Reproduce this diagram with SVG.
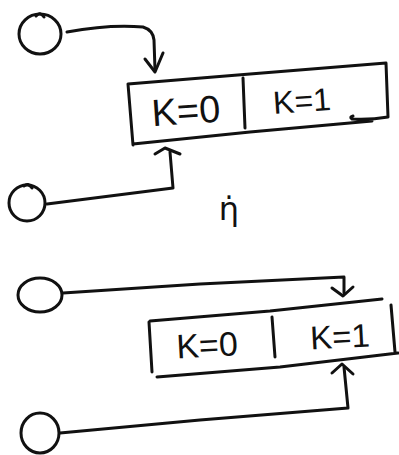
<svg xmlns="http://www.w3.org/2000/svg" width="399" height="455" viewBox="0 0 399 455">
<style>
.s{fill:none;stroke:#111;stroke-width:3;stroke-linecap:round;stroke-linejoin:round}
.t{font-family:"Liberation Sans",Arial,sans-serif;fill:#111}
</style>
<rect width="399" height="455" fill="#fff"/>
<g id="circle1"><ellipse class="s" cx="40" cy="34" rx="21" ry="20"/><path class="s" d="M36 16 Q40 11 44 17"/></g>
<g id="circle2"><ellipse class="s" cx="27" cy="203" rx="18" ry="18"/><path class="s" d="M24 186 Q28 182 32 188"/></g>
<g id="array1">
<path class="s" d="M128 84 L250 74 L386 63 M386 63 L388 117 Q370 120 352 119 Q349 117 353 116 M133 144 L250 132 L372 121 M128 84 L133 145 M243 78 L245 128"/>
<text class="t" x="186" y="124" font-size="38" text-anchor="middle" transform="rotate(-4 186 112)">K=0</text>
<text class="t" x="302" y="112" font-size="32" text-anchor="middle" transform="rotate(-4 302 102)">K=1</text>
</g>
<g id="eta"><text x="229" y="220" font-size="32" text-anchor="middle" font-family="DejaVu Sans, sans-serif" fill="#111">η̇</text></g>
<g id="circle3"><ellipse class="s" cx="40" cy="295" rx="22" ry="17"/></g>
<g id="circle4"><ellipse class="s" cx="40" cy="433" rx="19" ry="20"/></g>
<g id="array2">
<path class="s" d="M150 321 L270 311 L382 299 M391 305 L395 352 M157 377 L280 367 L398 353 M149 322 L152 372 M272 317 L275 357"/>
<text class="t" x="207" y="357" font-size="34" text-anchor="middle" transform="rotate(-3 207 345)">K=0</text>
<text class="t" x="340" y="348" font-size="33" text-anchor="middle" transform="rotate(-3 340 337)">K=1</text>
</g>
<g id="connectors">
<path class="s" d="M67 32 Q110 24 143 27 Q153 30 154 40 L155 70"/>
<path class="s" d="M145 59 L155 72 L163 53"/>
<path class="s" d="M47 204 L173 188 L170 152"/>
<path class="s" d="M155 154 L165 148 L180 154"/>
<path class="s" d="M63 293 L200 284 L344 277 L344 293"/>
<path class="s" d="M332 288 L343 296 L353 287"/>
<path class="s" d="M60 433 L200 420 L348 408 L344 367"/>
<path class="s" d="M332 373 L342 364 L353 374"/>
</g>
</svg>
